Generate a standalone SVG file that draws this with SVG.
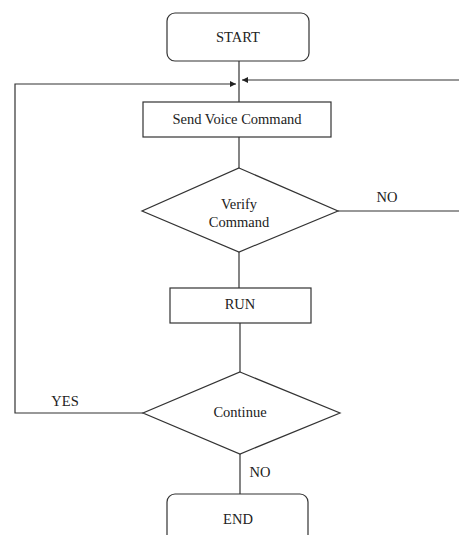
<svg xmlns="http://www.w3.org/2000/svg" width="459" height="535" viewBox="0 0 459 535">
<style>
.n{fill:#fff;stroke:#333;stroke-width:1.2}
.c{fill:none;stroke:#333;stroke-width:1.2}
text{font-family:"Liberation Serif","Times New Roman",serif;font-size:14.5px;fill:#222;text-anchor:middle;dominant-baseline:central}
</style>
<defs>
<marker id="ah" viewBox="0 0 10 10" refX="10" refY="5" markerWidth="6" markerHeight="6" markerUnits="userSpaceOnUse" orient="auto"><path d="M0,0 L10,5 L0,10 z" fill="#222"/></marker>
</defs>
<rect width="459" height="535" fill="#fff"/>
<g id="connectors">
<line class="c" x1="239" y1="61" x2="239" y2="102"/>
<polyline class="c" points="143,413 15,413 15,84 236,84" marker-end="url(#ah)"/>
<polyline class="c" points="338,211 459,211"/>
<line class="c" x1="459" y1="80" x2="242" y2="80" stroke="#444" stroke-width="1.8" marker-end="url(#ah)"/>
<line class="c" x1="239" y1="137" x2="239" y2="168"/>
<line class="c" x1="239" y1="252" x2="239" y2="288"/>
<line class="c" x1="240" y1="323" x2="240" y2="372"/>
<line class="c" x1="240" y1="454" x2="240" y2="494"/>
<text x="387" y="197">NO</text>
<text x="65" y="401">YES</text>
<text x="260" y="472">NO</text>
</g>
<g id="start"><rect class="n" x="167" y="13" width="142" height="48" rx="8"/><text x="238" y="37">START</text></g>
<g id="send"><rect class="n" x="143" y="102" width="188" height="35"/><text x="237" y="119">Send Voice Command</text></g>
<g id="verify"><polygon class="n" points="239,168 338,211 239,252 142,211"/><text x="239" y="204">Verify</text><text x="239" y="222">Command</text></g>
<g id="run"><rect class="n" x="170" y="288" width="141" height="35"/><text x="240" y="304">RUN</text></g>
<g id="continue"><polygon class="n" points="240,372 340,413 240,454 143,413"/><text x="240" y="412">Continue</text></g>
<g id="end"><rect class="n" x="167" y="494" width="141" height="60" rx="8"/><text x="238" y="519">END</text></g>
</svg>
